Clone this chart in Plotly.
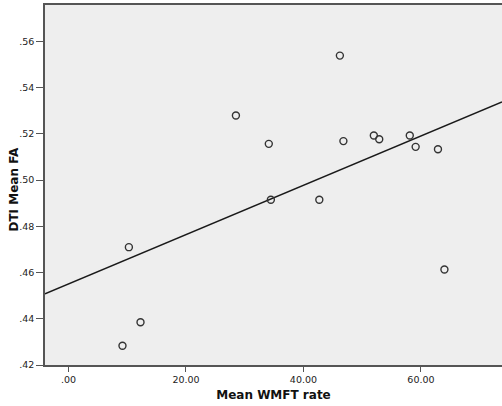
import numpy as np
import plotly.graph_objects as go

# Data
wmft_rate = [9.19, 10.28, 12.26, 28.5, 34.1, 34.45, 42.7, 46.2, 46.8, 51.98, 52.9, 58.1, 59.1, 62.9, 64.0]
dti_mean_fa = [0.4283, 0.471, 0.4385, 0.528, 0.5157, 0.4915, 0.4915, 0.5539, 0.5169, 0.5193, 0.5177, 0.5193, 0.5144, 0.5134, 0.4613]

x_tickvals = [0, 20, 40, 60]
x_ticktext = [".00", "20.00", "40.00", "60.00"]
y_tickvals = [0.42, 0.44, 0.46, 0.48, 0.50, 0.52, 0.54, 0.56]
y_ticktext = [".42", ".44", ".46", ".48", ".50", ".52", ".54", ".56"]

x_range = [-4.0, 73.8]
y_range = [0.42, 0.5758]

# Linear fit (least squares) across the full x range
slope, intercept = np.polyfit(wmft_rate, dti_mean_fa, 1)
fit_x = np.array(x_range)
fit_y = slope * fit_x + intercept

fig = go.Figure()
fig.add_trace(go.Scatter(
    x=fit_x, y=fit_y, mode="lines",
    line=dict(color="#1a1a1a", width=1.5),
    hoverinfo="skip", showlegend=False,
))
fig.add_trace(go.Scatter(
    x=wmft_rate, y=dti_mean_fa, mode="markers",
    marker=dict(symbol="circle-open", size=7, color="#333333", line=dict(width=1.4, color="#333333")),
    showlegend=False,
))

axis_font = dict(family="DejaVu Sans", size=9.5, color="#222")
fig.update_layout(
    width=502, height=406,
    margin=dict(l=45, r=0, t=5, b=41),
    paper_bgcolor="white",
    plot_bgcolor="#eeeeee",
    showlegend=False,
    xaxis=dict(
        range=x_range, tickvals=x_tickvals, ticktext=x_ticktext,
        showgrid=False, zeroline=False,
        showline=True, linecolor="#555555", linewidth=1.5, mirror=True,
        ticks="outside", ticklen=5, tickwidth=1.2, tickcolor="#555555",
        tickfont=axis_font,
        title=dict(text="<b>Mean WMFT rate</b>", font=dict(family="DejaVu Sans", size=12, color="#111"), standoff=6),
    ),
    yaxis=dict(
        range=y_range, tickvals=y_tickvals, ticktext=y_ticktext,
        showgrid=False, zeroline=False,
        showline=True, linecolor="#555555", linewidth=1.5, mirror=False,
        ticks="outside", ticklen=7, tickwidth=1.2, tickcolor="#555555",
        ticklabelstandoff=0,
        tickfont=axis_font,
    ),
    annotations=[dict(
        text="<b>DTI Mean FA</b>", textangle=-90,
        xref="paper", yref="paper", x=-0.068, y=0.49,
        xanchor="center", yanchor="middle", showarrow=False,
        font=dict(family="DejaVu Sans", size=12, color="#111"),
    )],
)

fig.write_html(
    "out.html",
    config={"displayModeBar": False},
    post_script="document.body.style.margin='0';document.body.style.overflow='hidden';",
)
